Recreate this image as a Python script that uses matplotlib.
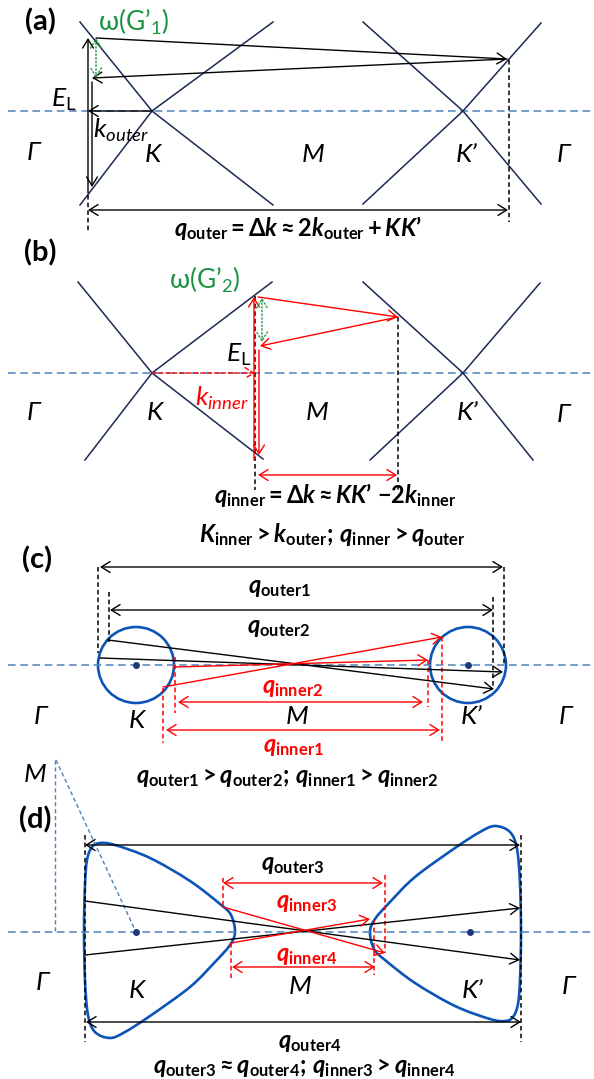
import numpy as np
import matplotlib.pyplot as plt
from matplotlib.path import Path
from matplotlib.patches import PathPatch, Circle

plt.rcParams['mathtext.fontset'] = 'custom'
plt.rcParams['mathtext.it'] = 'Lato:italic:bold'
plt.rcParams['mathtext.rm'] = 'Lato:bold'
plt.rcParams['mathtext.bf'] = 'Lato:bold'
plt.rcParams['mathtext.sf'] = 'Lato:italic'
plt.rcParams['mathtext.tt'] = 'Lato'
plt.rcParams['mathtext.fallback'] = 'stixsans'

navy = '#1b2a55'
guide = '#4f81bd'
ring = '#0c54b8'
red = '#ff0000'
green = '#1a9440'

# sketch coordinates (pixels, y down)
# panel (a): dirac cones, crossing point + arm ends
cross_a = [(152, 111), (463, 111)]
arms_a = [[(80, 22), (80, 205), (273, 22), (273, 205)],
          [(363, 22), (363, 204), (541, 23), (541, 204)]]
# panel (b)
cross_b = [(152, 373), (463, 373)]
arms_b = [[(78, 282), (85, 460), (272, 282), (263, 459)],
          [(363, 282), (370, 460), (540, 283), (533, 460)]]
# guide lines (gamma-K-M axis) per panel
axis_y = [111, 373, 665, 932]

# panel (c): circles around K and K'
circ_c = [(136, 665), (468, 665)]
circ_r = 38
# panel (d): warped contour around K (K' is it turned by 180 deg)
blob_K = [(235, 932), (231, 915), (220, 904), (190, 881), (150, 858), (115, 845),
          (100, 843), (92, 847), (87, 860), (85, 885), (84, 930), (85, 980),
          (88, 1015), (95, 1032), (110, 1038), (125, 1032), (150, 1016),
          (190, 987), (215, 962), (230, 945)]
blob_centre = (302.5, 932)
dots_d = [(136, 932), (470, 932)]

# labels of high symmetry points: (x, y, text)
sym_labels = [(33, 153, 'Γ'), (153, 155, 'K'), (313, 155, 'M'), (467, 155, 'K’'), (563, 155, 'Γ'),
              (33, 413, 'Γ'), (155, 413, 'K'), (317, 413, 'M'), (468, 413, 'K’'), (563, 414, 'Γ'),
              (40, 717, 'Γ'), (137, 720, 'K'), (297, 716, 'M'), (472, 717, 'K’'), (565, 717, 'Γ'),
              (35, 775, 'M'),
              (42, 983, 'Γ'), (137, 990, 'K'), (300, 987, 'M'), (473, 990, 'K’'), (568, 986, 'Γ')]
panel_labels = [(40, 22, '(a)'), (40, 253, '(b)'), (37, 560, '(c)'), (35, 820, '(d)')]

fig = plt.figure(figsize=(5.94, 10.79), dpi=100)
ax = fig.add_axes([0, 0, 1, 1])
ax.set_xlim(0, 594)
ax.set_ylim(1079, 0)
ax.axis('off')

QS = 17  # size of the bold italic q labels


def arrow(p0, p1, color='black', style='->', lw=1.0, ls='-'):
    ax.annotate('', xy=p1, xytext=p0,
                arrowprops=dict(arrowstyle=style + ',head_length=0.45,head_width=0.28',
                                color=color, lw=lw, ls=ls, shrinkA=0, shrinkB=0,
                                mutation_scale=14))


def vdash(x, y0, y1, color='black'):
    ax.plot([x, x], [y0, y1], color=color, lw=1.1, ls=(0, (3, 2)))


def cone(c, ends):
    for e in ends:
        ax.plot([c[0], e[0]], [c[1], e[1]], color=navy, lw=1.1)


def blob_path(pts):
    P = np.array(pts, float)
    n = len(P)
    verts = [P[0]]
    codes = [Path.MOVETO]
    for i in range(n):
        p0, p1, p2, p3 = P[i - 1], P[i], P[(i + 1) % n], P[(i + 2) % n]
        verts += [p1 + (p2 - p0) / 6, p2 - (p3 - p1) / 6, p2]
        codes += [Path.CURVE4] * 3
    return Path(verts, codes)


def qtext(x, y, s, color='black'):
    ax.text(x, y, s, fontsize=QS, color=color, ha='center', va='center')


for y in axis_y:
    ax.plot([8, 594], [y, y], color=guide, lw=1.1, ls=(0, (5, 3)))

for x, y, s in sym_labels:
    ax.text(x, y, s, ha='center', va='center', fontsize=19, style='italic',
            family=['Lato', 'DejaVu Sans'])
for x, y, s in panel_labels:
    ax.text(x, y, s, ha='center', va='center', fontsize=21, weight='bold',
            family=['Lato', 'DejaVu Sans'])

# ---------------- (a)
for c, e in zip(cross_a, arms_a):
    cone(c, e)
arrow((88, 193), (88, 38))
arrow((92, 82), (92, 187))
arrow((96, 38), (507, 59))
arrow((507, 59), (92, 78))
arrow((96, 38), (96, 78), color=green, style='<->', lw=1.0, ls=':')
arrow((152, 111), (88, 111))
arrow((88, 210), (508, 210), style='<->')
vdash(88, 195, 233)
vdash(509, 60, 222)
ax.text(134, 22, r'$\mathtt{ω(G’}_{\mathtt{1}}\mathtt{)}$', color=green, fontsize=19,
        ha='center', va='center')
ax.text(64, 100, r'$\mathsf{E}_{\mathtt{L}}$', fontsize=19, ha='center', va='center')
ax.text(121, 130, r'$\mathsf{k}_{\mathsf{outer}}$', fontsize=19, ha='center', va='center')
qtext(298, 228, r'$q_{\mathbf{outer}} = \Delta k \approx 2k_{\mathbf{outer}} + KK’$')

# ---------------- (b)
for c, e in zip(cross_b, arms_b):
    cone(c, e)
vdash(255, 296, 490)
vdash(398, 317, 490)
arrow((254, 460), (254, 297), color=red)
arrow((259, 350), (259, 455), color=red)
arrow((258, 297), (398, 317), color=red)
arrow((398, 317), (260, 346), color=red)
arrow((262, 298), (262, 342), color=green, style='<->', ls=':')
arrow((152, 373), (255, 373), color=red, ls=(0, (3, 2)))
arrow((258, 475), (397, 475), color=red, style='<->')
ax.text(205, 280, r'$\mathtt{ω(G’}_{\mathtt{2}}\mathtt{)}$', color=green, fontsize=19,
        ha='center', va='center')
ax.text(239, 355, r'$\mathsf{E}_{\mathtt{L}}$', fontsize=19, ha='center', va='center')
ax.text(222, 398, r'$\mathsf{k}_{\mathsf{inner}}$', color=red, fontsize=19,
        ha='center', va='center')
qtext(335, 495, r'$q_{\mathbf{inner}} = \Delta k \approx KK’\ {-}2k_{\mathbf{inner}}$')
qtext(332, 535, r'$K_{\mathbf{inner}} > k_{\mathbf{outer}};\,q_{\mathbf{inner}} > q_{\mathbf{outer}}$')

# ---------------- (c)
for c in circ_c:
    ax.add_patch(Circle(c, circ_r, fill=False, ec=ring, lw=1.9))
    ax.plot(c[0], c[1], 'o', color='#1f3a7a', ms=4)
vdash(98, 567, 653)
vdash(109, 592, 642)
vdash(504, 567, 665)
vdash(493, 597, 688)
vdash(175, 657, 713, red)
vdash(163, 688, 743, red)
vdash(428, 660, 707, red)
vdash(442, 637, 743, red)
arrow((100, 567), (503, 567), style='<->')
arrow((110, 610), (493, 610), style='<->')
arrow((108, 640), (494, 689))
arrow((100, 658), (503, 672))
arrow((175, 667), (428, 660), color=red)
arrow((163, 687), (442, 637), color=red)
arrow((178, 702), (423, 702), color=red, style='<->')
arrow((166, 730), (440, 730), color=red, style='<->')
qtext(279, 587, r'$q_{\mathbf{outer1}}$')
qtext(279, 627, r'$q_{\mathbf{outer2}}$')
qtext(292, 687, r'$q_{\mathbf{inner2}}$', red)
qtext(293, 746, r'$q_{\mathbf{inner1}}$', red)
qtext(287, 777, r'$q_{\mathbf{outer1}} > q_{\mathbf{outer2}};\,q_{\mathbf{inner1}} > q_{\mathbf{inner2}}$')

# ---------------- (d)
ax.plot([55, 55], [760, 932], color=guide, lw=1.0, ls=(0, (3, 2)))
ax.plot([56, 136], [760, 932], color=guide, lw=1.0, ls=(0, (3, 2)))
left = np.array(blob_K, float)
right = 2 * np.array(blob_centre) - left
for pts in (left, right):
    ax.add_patch(PathPatch(blob_path(pts), fill=False, ec=ring, lw=1.9))
for d in dots_d:
    ax.plot(d[0], d[1], 'o', color='#1f3a7a', ms=4)
vdash(85, 835, 1042)
vdash(521, 835, 1042)
vdash(223, 878, 907, red)
vdash(385, 875, 953, red)
vdash(231, 943, 978, red)
vdash(374, 920, 975, red)
arrow((85, 845), (520, 845), style='<->')
arrow((85, 901), (520, 960))
arrow((85, 955), (520, 908))
arrow((223, 907), (385, 953), color=red)
arrow((231, 943), (370, 919), color=red)
arrow((223, 883), (383, 883), color=red, style='<->')
arrow((232, 967), (375, 967), color=red, style='<->')
arrow((86, 1022), (521, 1022), style='<->')
qtext(293, 864, r'$q_{\mathbf{outer3}}$')
qtext(307, 902, r'$q_{\mathbf{inner3}}$', red)
qtext(307, 955, r'$q_{\mathbf{inner4}}$', red)
qtext(310, 1042, r'$q_{\mathbf{outer4}}$')
qtext(304, 1067, r'$q_{\mathbf{outer3}} \approx q_{\mathbf{outer4}};\,q_{\mathbf{inner3}} > q_{\mathbf{inner4}}$')

fig.savefig('out.png', dpi=100)
